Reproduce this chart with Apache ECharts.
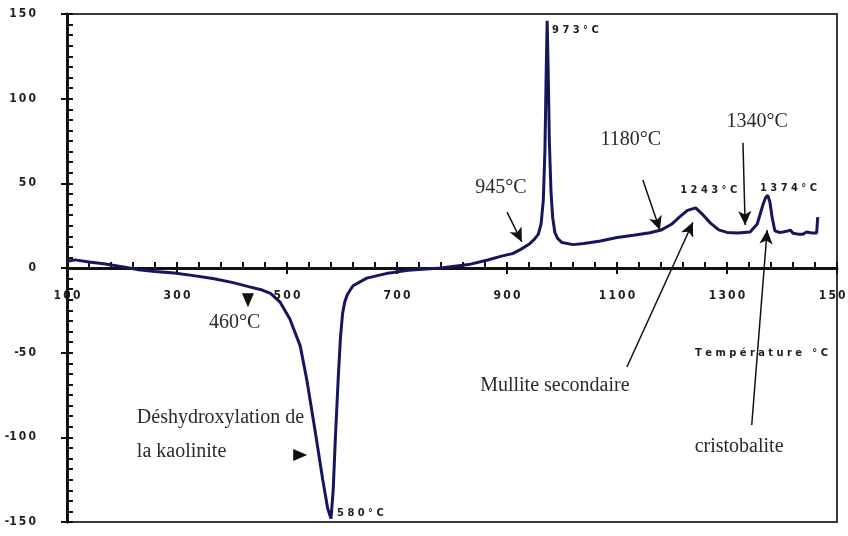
<!DOCTYPE html>
<html>
<head>
<meta charset="utf-8">
<script src="https://cdn.jsdelivr.net/npm/echarts@6/dist/echarts.min.js"></script>
<style>
  html, body { margin: 0; padding: 0; background: #ffffff; }
  #chart { width: 848px; height: 536px; }
</style>
</head>
<body>
<div id="chart"></div>
<script>
// DTA curve of a kaolinitic clay: temperature (°C) and thermal signal
const temperature = [
  100, 115, 140, 170, 200, 230, 260, 295, 330, 365, 400, 430, 455, 470, 487,
  505, 524, 536, 551, 565, 574, 580, 584, 588, 593, 597, 601, 605, 610, 620,
  645, 680, 720, 780, 830, 865, 890, 910, 925, 940, 950, 957, 962, 966, 969,
  971, 973, 975, 977, 980, 983, 987, 992, 1000, 1020, 1040, 1070, 1100, 1130,
  1160, 1180, 1200, 1215, 1228, 1243, 1256, 1270, 1285, 1300, 1320, 1342,
  1355, 1365, 1370, 1374, 1378, 1382, 1387, 1395, 1402, 1410, 1415, 1420,
  1430, 1438, 1445, 1452, 1458, 1463, 1465
];
const signal = [
  4, 4.8, 3.5, 2.3, 0.8, -1, -2, -3, -4.5, -6.2, -8.5, -11, -13, -15, -20,
  -30, -46, -66, -96, -125, -142, -148, -131, -100, -66, -42, -27, -20, -15.5, -10.5,
  -6, -3.3, -1.4, 0, 2, 4.7, 7, 8.5, 11, 14, 17, 20, 26, 40, 70,
  110, 146, 115, 75, 45, 30, 21, 17.5, 15, 13.8, 14.5, 16, 18, 19.3,
  20.8, 22.4, 26, 30.5, 34, 35.5, 31.5, 26.5, 22.5, 21, 20.6, 21.3,
  26, 37, 41.5, 43, 39, 30, 22, 21, 21.3, 21.8, 22.4, 20.5,
  20, 20, 21.3, 20.8, 20.7, 20.7, 30
];

// Axis tick values
const xTickValues = [100, 300, 500, 700, 900, 1100, 1300, 1500];
const yTickValues = [-150, -100, -50, 0, 50, 100, 150];

// Small letter-spaced labels next to the peaks: [text, temperature, signal]
const peakTags = [
  ['973°C', 982, 140.6],
  ['580°C', 591, -144.7],
  ['1243°C', 1215, 46],
  ['1374°C', 1360, 47.3],
  ['Température °C', 1242, -50.2]
];

// Serif annotations: [text, temperature, signal]
const notes = [
  ['945°C', 889, 47.3],
  ['1180°C', 1125, 75.6],
  ['1340°C', 1355, 86.2],
  ['460°C', 405, -32.5],
  ['Mullite secondaire', 987, -69.7],
  ['cristobalite', 1322, -105.7]
];
const noteBlock = ['Déshydroxylation de\nla kaolinite', 227, -98.6];

// Arrows: [from, to] in (temperature, signal)
const arrows = [
  [[900, 33], [927, 15.4]],
  [[1147, 52], [1178, 22.4]],
  [[1329, 74], [1333, 25.4]],
  [[1118, -58.5], [1238, 27]],
  [[1345, -92.7], [1373, 22.4]]
];

// Lone arrowheads: [temperature, signal, rotation]
const heads = [
  [429, -19, 180],
  [524, -110.5, -90]
];

const ink = '#1e1e1e';
const tickFont = "'Liberation Sans Narrow', 'DejaVu Sans Condensed', 'Liberation Sans', sans-serif";
const serifFont = "'Liberation Serif', 'DejaVu Serif', serif";
const spaced = (s, sep) => String(s).split('').join(sep);

const xMin = xTickValues[0], xMax = xTickValues[xTickValues.length - 1];
const xStep = xTickValues[1] - xTickValues[0];
const yMin = yTickValues[0], yMax = yTickValues[yTickValues.length - 1];
const yStep = yTickValues[1] - yTickValues[0];

// Plot box and the height of the zero line above its bottom edge
const box = { left: 67, right: 11, top: 14, bottom: 14 };
const boxHeight = 536 - box.top - box.bottom;
const zeroLift = boxHeight * (0 - yMin) / (yMax - yMin);

const markPoints = [];
peakTags.forEach(([t, x, y]) => markPoints.push({
  coord: [x, y], symbol: 'circle', symbolSize: 0,
  label: {
    show: true, position: 'right', distance: 0,
    formatter: spaced(t, ' '),
    fontFamily: tickFont, fontSize: 11, fontWeight: 'bold', color: ink
  }
}));
notes.forEach(([t, x, y]) => markPoints.push({
  coord: [x, y], symbol: 'circle', symbolSize: 0,
  label: {
    show: true, position: 'inside', formatter: t,
    fontFamily: serifFont, fontSize: 20, color: '#2a2a2a'
  }
}));
markPoints.push({
  coord: [noteBlock[1], noteBlock[2]], symbol: 'circle', symbolSize: 0,
  label: {
    show: true, position: 'right', distance: 0, formatter: noteBlock[0],
    fontFamily: serifFont, fontSize: 20, lineHeight: 34, color: '#2a2a2a'
  }
});
heads.forEach(([x, y, r]) => markPoints.push({
  coord: [x, y], symbol: 'triangle', symbolSize: [12, 14], symbolRotate: r,
  itemStyle: { color: '#111' }, label: { show: false }
}));

const tickLabelStyle = {
  fontFamily: tickFont, fontSize: 12, fontWeight: 'bold', color: ink
};

const chart = echarts.init(document.getElementById('chart'), null, { renderer: 'canvas' });
chart.setOption({
  animation: false,
  backgroundColor: '#ffffff',
  grid: {
    left: box.left, right: box.right, top: box.top, bottom: box.bottom,
    containLabel: false, outerBoundsMode: 'none',
    show: true, borderColor: '#3a3a3a', borderWidth: 2, backgroundColor: 'transparent'
  },
  xAxis: [
    {
      type: 'value', min: xMin, max: xMax, interval: xStep,
      position: 'bottom', offset: -zeroLift,
      axisLine: { show: true, onZero: false, lineStyle: { color: '#111', width: 3 } },
      axisTick: { show: true, inside: false, length: 6, lineStyle: { color: '#111', width: 2 } },
      axisLabel: Object.assign({
        show: true, margin: 22, formatter: v => spaced(v, '\u2009')
      }, tickLabelStyle),
      splitLine: { show: false }
    },
    {
      type: 'value', min: xMin, max: xMax, interval: xStep,
      position: 'bottom', offset: -zeroLift,
      axisLine: { show: false, onZero: false },
      axisTick: { show: true, inside: true, length: 6, lineStyle: { color: '#111', width: 2 } },
      minorTick: { show: true, splitNumber: 5, length: 6, lineStyle: { color: '#111', width: 2 } },
      axisLabel: { show: false },
      splitLine: { show: false }
    }
  ],
  yAxis: [
    {
      type: 'value', min: yMin, max: yMax, interval: yStep, position: 'left',
      axisLine: { show: true, onZero: false, lineStyle: { color: '#111', width: 3 } },
      axisTick: { show: true, inside: false, length: 6, lineStyle: { color: '#111', width: 2 } },
      axisLabel: Object.assign({
        show: true, margin: 31, formatter: v => spaced(v, '\u2009').replace('-\u2009', '-')
      }, tickLabelStyle),
      splitLine: { show: false }
    },
    {
      type: 'value', min: yMin, max: yMax, interval: yStep, position: 'left',
      axisLine: { show: false, onZero: false },
      axisTick: { show: true, inside: true, length: 6, lineStyle: { color: '#111', width: 2 } },
      minorTick: { show: true, splitNumber: 8, length: 6, lineStyle: { color: '#111', width: 2 } },
      axisLabel: { show: false },
      splitLine: { show: false }
    }
  ],
  series: [{
    type: 'line',
    xAxisIndex: 0, yAxisIndex: 0,
    data: temperature.map((t, i) => [t, signal[i]]),
    symbol: 'none',
    smooth: false,
    lineStyle: { color: '#16165e', width: 3 },
    z: 3,
    markLine: {
      silent: true, animation: false,
      symbol: ['none', 'arrow'], symbolSize: [10, 14],
      lineStyle: { color: '#111', width: 1.5, type: 'solid' },
      label: { show: false },
      emphasis: { disabled: true },
      data: arrows.map(([a, b]) => [{ coord: a }, { coord: b }])
    },
    markPoint: {
      silent: true, animation: false,
      data: markPoints
    }
  }]
});
</script>
</body>
</html>
